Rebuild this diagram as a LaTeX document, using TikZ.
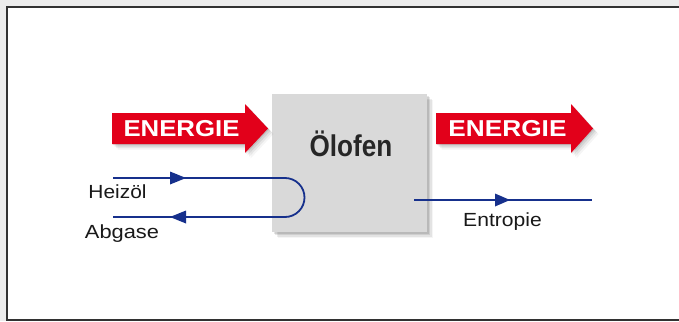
\documentclass[tikz,border=0pt]{standalone}
\usepackage{fontspec}
\setmainfont{Liberation Sans}
\definecolor{bgouter}{RGB}{236,236,236}
\definecolor{boxgray}{RGB}{217,217,217}
\definecolor{ered}{RGB}{226,0,26}
\definecolor{fblue}{RGB}{22,48,140}
\definecolor{framec}{RGB}{50,50,50}
\tikzset{
  flow/.style={draw=fblue, line width=1.8pt},
  tipfill/.style={fill=fblue},
  energytext/.style={inner sep=0pt, anchor=base, text=white, font=\fontsize{23}{23}\selectfont\bfseries},
  labeltext/.style={inner sep=0pt, anchor=base, text=black!90, font=\fontsize{19}{19}\selectfont},
  ofentext/.style={inner sep=0pt, anchor=base, text=black!85, font=\fontsize{30}{30}\selectfont\bfseries},
  ofenbox/.style={fill=boxgray, draw=none, inner sep=0pt, minimum width=155pt, minimum height=138pt, anchor=north west},
}
\newcommand{\energyarrow}[3]{% #1 left x, #2 head start x, #3 tip x
  \foreach \s/\o in {1/0.10,2.5/0.08,4/0.06,5.5/0.04}{
    \fill[black, opacity=\o, shift={(\s,\s)}]
      (#1,113) -- (#2,113) -- (#2,104) -- (#3,128.5) -- (#2,153) -- (#2,144) -- (#1,144) -- cycle;
  }
  \fill[ered] (#1,113) -- (#2,113) -- (#2,104) -- (#3,128.5) -- (#2,153) -- (#2,144) -- (#1,144) -- cycle;
}
\begin{document}
\begin{tikzpicture}[x=1pt,y=-1pt]
\useasboundingbox (0,0) rectangle (679,321);
\fill[bgouter] (0,0) rectangle (679,321);
\fill[white] (6.5,7.5) rectangle (679,320);
\draw[framec, line width=2pt] (679,7.5) -- (6.5,7.5) -- (6.5,320) -- (679,320);

% box shadow
\foreach \s/\o in {1.5/0.10,3/0.09,4.5/0.07,6/0.04}{
  \fill[black, opacity=\o] (272+\s,94+\s) rectangle (427+\s,232+\s);
}
\node[ofenbox] (ofen) at (272,94) {};
\node[ofentext] (ofenlabel) at (351,156) {\scalebox{0.87}[1]{Ölofen}};

% energy arrows
\energyarrow{112}{245}{268}
\energyarrow{436}{571}{593}
\node[energytext] (ein) at (181.5,136.5) {\scalebox{1.12}[1]{ENERGIE}};
\node[energytext] (eout) at (507.5,136) {\scalebox{1.14}[1]{ENERGIE}};

% fuel / exhaust loop
\coordinate (h0) at (113,178);
\coordinate (hturn) at (285,178);
\coordinate (a0) at (113,217);
\draw[flow] (h0) -- (hturn) arc[start angle=-90, end angle=90, radius=19.5] -- (a0);
\fill[tipfill] (170,171.5) -- (186,178) -- (170,184.5) -- cycle;
\fill[tipfill] (186,210.5) -- (170,217) -- (186,223.5) -- cycle;
\node[labeltext] (heiz) at (117.5,198.5) {\scalebox{1.1}[1]{Heizöl}};
\node[labeltext] (abg) at (122,238.5) {\scalebox{1.15}[1]{Abgase}};

% entropy
\coordinate (e0) at (414,200);
\coordinate (e1) at (592,200);
\draw[flow] (e0) -- (e1);
\fill[tipfill] (495,193.5) -- (510,200) -- (495,206.5) -- cycle;
\node[labeltext] (entr) at (502.5,226.5) {\scalebox{1.11}[1]{Entropie}};
\end{tikzpicture}
\end{document}
